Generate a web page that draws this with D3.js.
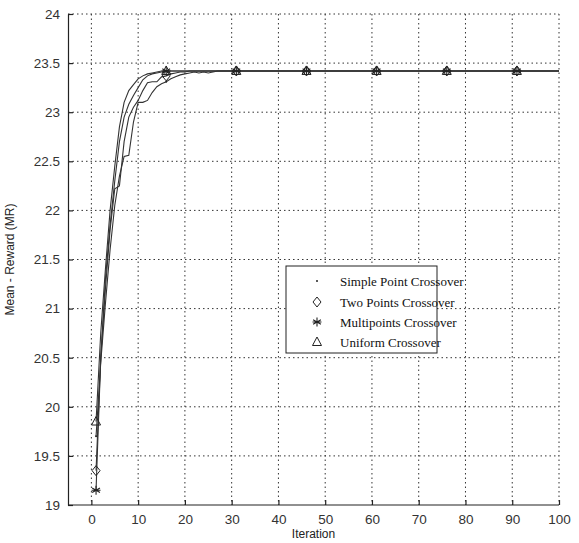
<!DOCTYPE html>
<html><head><meta charset="utf-8">
<script src="https://cdn.jsdelivr.net/npm/d3@7/dist/d3.min.js"></script>
<style>body{margin:0;background:#fff}</style>
</head><body>
<svg id="c" width="579" height="543"></svg>
<script>
const xTicks = [0,10,20,30,40,50,60,70,80,90,100];
const yTicks = [19,19.5,20,20.5,21,21.5,22,22.5,23,23.5,24];
const markerIters = [1,16,31,46,61,76,91];
const seriesNames = ["Simple Point Crossover","Two Points Crossover","Multipoints Crossover","Uniform Crossover"];
const seriesMarkers = ["dot","diamond","star","triangle"];
const iterations = [1,2,3,4,5,6,7,8,9,10,11,12,13,14,15,16,17,18,19,20,21,22,23,24,25,26,27,28,29,30,31,46,61,76,91,100];
const simplePoint = [19.7,20.45,21.05,21.6,22.05,22.35,22.55,22.56,22.9,23.1,23.1,23.12,23.2,23.26,23.29,23.31,23.34,23.36,23.38,23.39,23.4,23.41,23.4,23.41,23.4,23.41,23.42,23.42,23.42,23.42,23.42,23.42,23.42,23.42,23.42,23.42];
const twoPoints = [19.35,20.5,21.2,21.8,22.22,22.25,22.7,22.95,23.05,23.12,23.22,23.3,23.31,23.31,23.36,23.37,23.39,23.4,23.41,23.41,23.42,23.42,23.42,23.42,23.42,23.42,23.42,23.42,23.42,23.42,23.42,23.42,23.42,23.42,23.42,23.42];
const multipoints = [19.15,20.5,21.3,21.85,22.3,22.7,22.95,23.08,23.17,23.25,23.33,23.37,23.39,23.4,23.41,23.42,23.42,23.42,23.42,23.42,23.42,23.42,23.42,23.42,23.42,23.42,23.42,23.42,23.42,23.42,23.42,23.42,23.42,23.42,23.42,23.42];
const uniform = [19.85,20.75,21.4,22.0,22.45,22.85,23.1,23.22,23.28,23.34,23.37,23.39,23.4,23.41,23.42,23.42,23.42,23.42,23.42,23.42,23.42,23.42,23.42,23.42,23.42,23.42,23.42,23.42,23.42,23.42,23.42,23.42,23.42,23.42,23.42,23.42];
const allSeries = [simplePoint, twoPoints, multipoints, uniform];

const svg = d3.select("#c");
const L = 68, R = 559, T = 14, B = 505;
const x = d3.scaleLinear().domain([-5,100]).range([L,R]);
const y = d3.scaleLinear().domain([19,24]).range([B,T]);
const ink = "#222";
const font = "Liberation Sans, Arial, sans-serif";

// grid
const g = svg.append("g");
g.selectAll("line.vg").data(xTicks).join("line")
  .attr("x1", d=>x(d)).attr("x2", d=>x(d)).attr("y1", T).attr("y2", B)
  .attr("stroke", "#333").attr("stroke-width", 1).attr("stroke-dasharray", "1.5,3");
g.selectAll("line.hg").data(yTicks.filter(d=>d>19)).join("line")
  .attr("x1", L).attr("x2", R).attr("y1", d=>y(d)).attr("y2", d=>y(d))
  .attr("stroke", "#333").attr("stroke-width", 1).attr("stroke-dasharray", "1.5,3");

// axes
const xAxis = d3.axisBottom(x).tickValues(xTicks).tickSizeInner(-5).tickSizeOuter(0).tickPadding(9);
const yAxis = d3.axisLeft(y).tickValues(yTicks).tickSizeInner(-5).tickSizeOuter(0).tickPadding(8)
  .tickFormat(d3.format("~g"));
const xa = svg.append("g").attr("transform", `translate(0,${B})`).call(xAxis);
xa.select(".domain").attr("d", `M${L},0H${R}`);
const ya = svg.append("g").attr("transform", `translate(${L},0)`).call(yAxis);
[xa, ya].forEach(a => {
  a.selectAll("path,line").attr("stroke", ink).attr("stroke-width", 1.2);
  a.selectAll("text").attr("font-family", font).attr("font-size", 13.5).attr("fill", "#333");
});

svg.append("text").attr("x", x(47.5)).attr("y", 538).attr("text-anchor", "middle")
  .attr("font-family", font).attr("font-size", 12).attr("fill", "#222").text("Iteration");
svg.append("text").attr("transform", `translate(14,${(T+B)/2}) rotate(-90)`).attr("text-anchor", "middle")
  .attr("font-family", font).attr("font-size", 12).attr("fill", "#222").text("Mean - Reward (MR)");

// lines
const line = d3.line().x(d=>x(d[0])).y(d=>y(d[1]));
allSeries.forEach(s => {
  svg.append("path").datum(iterations.map((it,i)=>[it, s[i]]))
    .attr("d", line).attr("fill", "none").attr("stroke", "#333").attr("stroke-width", 1.1);
});

function drawMarker(sel, type, cx, cy) {
  if (type === "dot") {
    sel.append("circle").attr("cx", cx).attr("cy", cy).attr("r", 1).attr("fill", ink);
  } else if (type === "diamond") {
    sel.append("path").attr("d", `M${cx},${cy-5}L${cx+4},${cy}L${cx},${cy+5}L${cx-4},${cy}Z`)
      .attr("fill", "none").attr("stroke", ink).attr("stroke-width", 1);
  } else if (type === "star") {
    const r = 4.5;
    let d = "";
    [0,60,120].forEach(a => { const t = a*Math.PI/180; d += `M${cx-r*Math.sin(t)},${cy-r*Math.cos(t)}L${cx+r*Math.sin(t)},${cy+r*Math.cos(t)}`; });
    d += `M${cx-r},${cy}L${cx+r},${cy}`;
    sel.append("path").attr("d", d).attr("stroke", ink).attr("stroke-width", 1.1);
  } else if (type === "triangle") {
    sel.append("path").attr("d", `M${cx},${cy-5}L${cx+4.5},${cy+3.5}L${cx-4.5},${cy+3.5}Z`)
      .attr("fill", "none").attr("stroke", ink).attr("stroke-width", 1);
  }
}
const mg = svg.append("g");
allSeries.forEach((s, si) => {
  iterations.forEach((it, i) => {
    if (markerIters.includes(it)) drawMarker(mg, seriesMarkers[si], x(it), y(s[i]));
  });
});

// legend
const lg = svg.append("g");
lg.append("rect").attr("x", 286).attr("y", 266).attr("width", 151).attr("height", 87)
  .attr("fill", "#fff").attr("stroke", ink).attr("stroke-width", 1);
const rowY = [281, 302, 322, 342];
seriesNames.forEach((n, i) => {
  drawMarker(lg, seriesMarkers[i], 317, rowY[i]);
  lg.append("text").attr("x", 340).attr("y", rowY[i] + 4.5).attr("font-family", "Liberation Serif, Times New Roman, serif")
    .attr("font-size", 13).attr("fill", "#111").text(n);
});
</script>
</body></html>
